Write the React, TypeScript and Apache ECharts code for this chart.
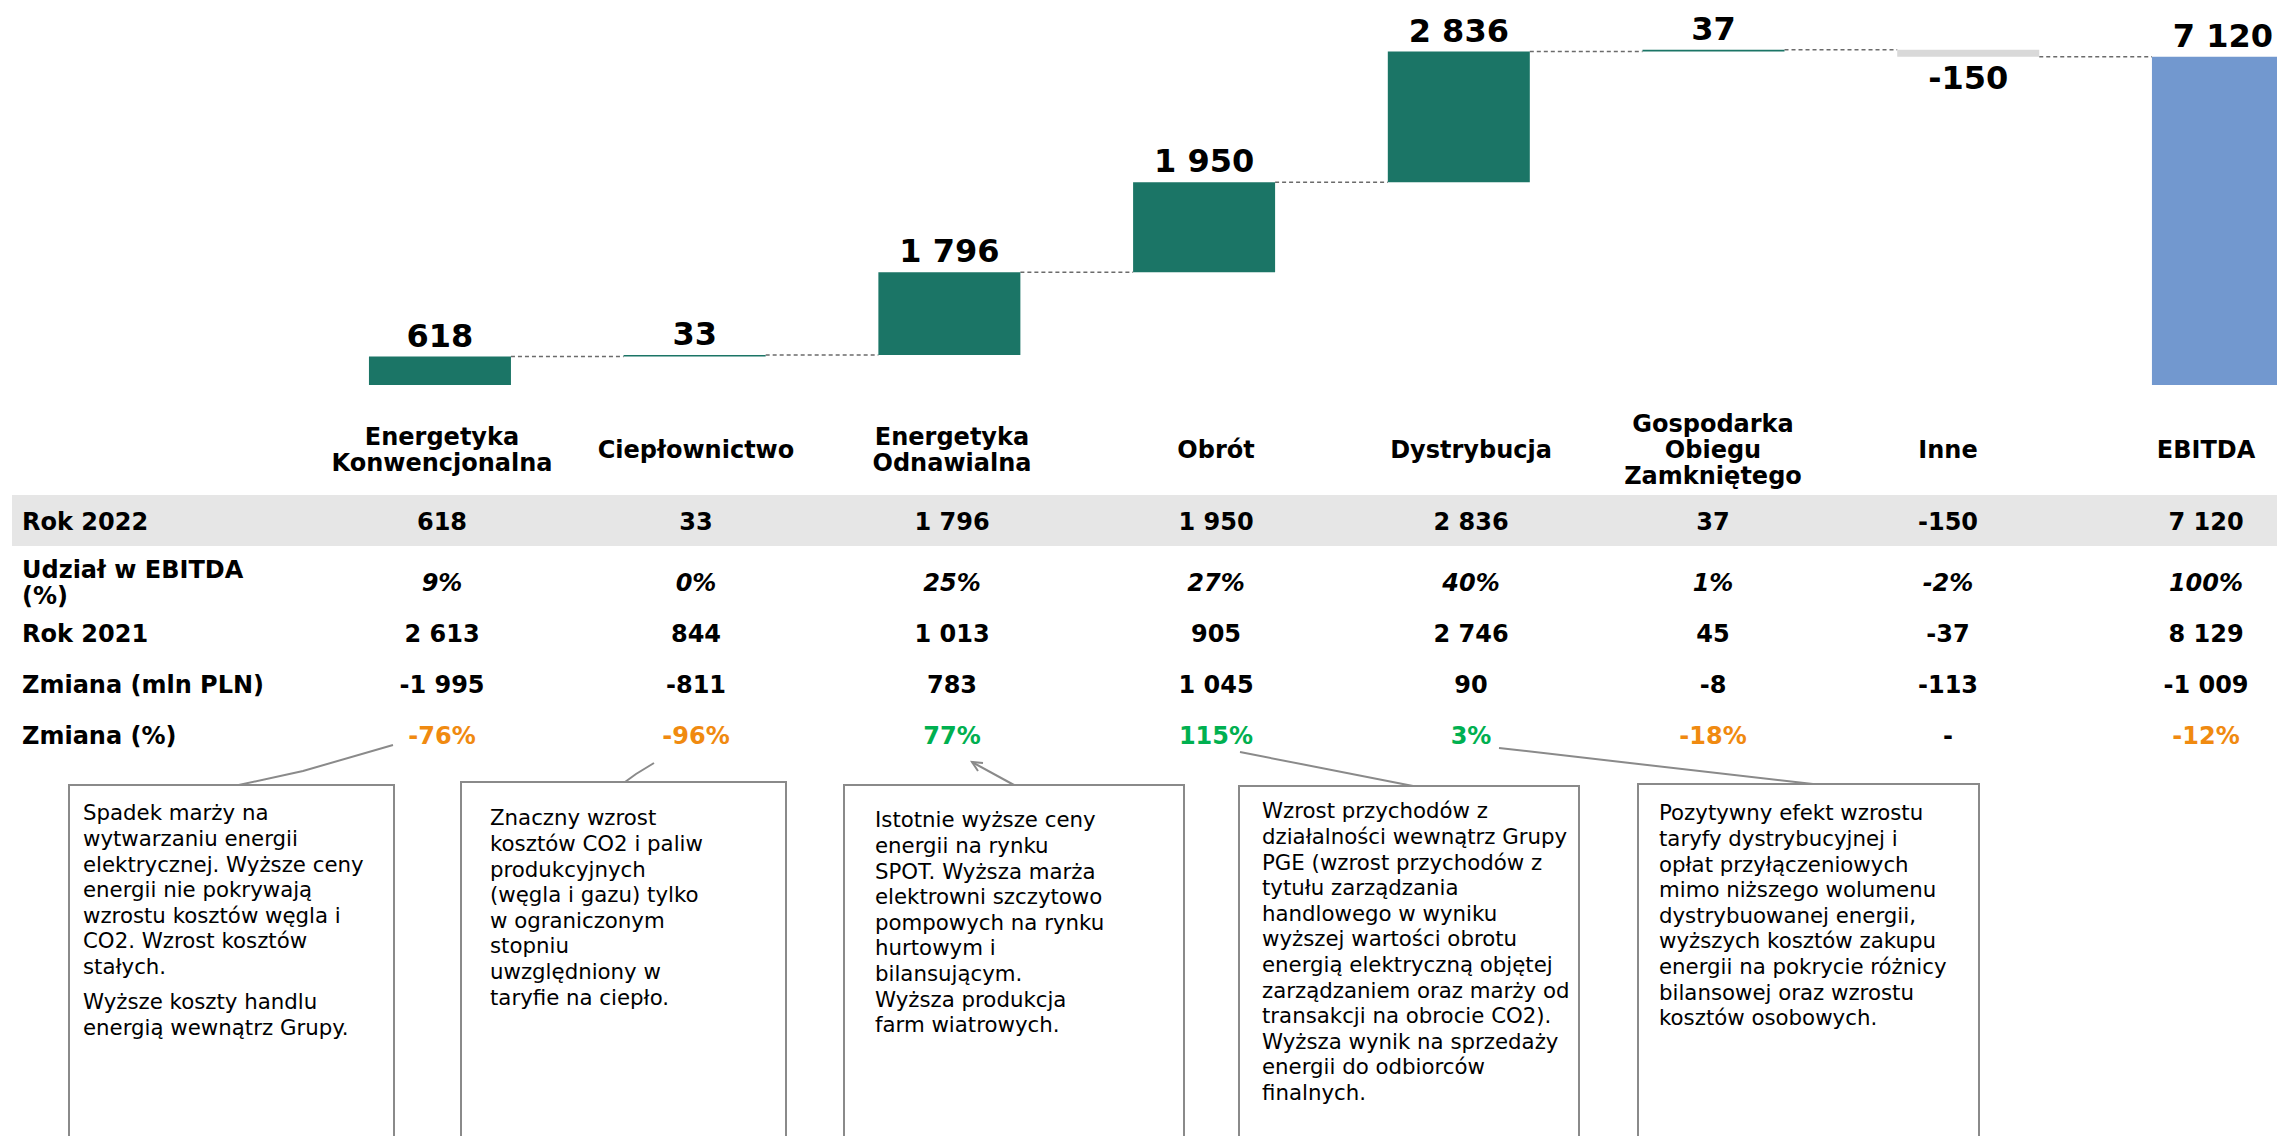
import React, { useEffect, useRef } from "react";
import * as echarts from "echarts";

// ---------- data ----------
const categories = [
  "Energetyka\nKonwencjonalna",
  "Ciepłownictwo",
  "Energetyka\nOdnawialna",
  "Obrót",
  "Dystrybucja",
  "Gospodarka\nObiegu\nZamkniętego",
  "Inne",
  "EBITDA",
];
const rok2022 = [618, 33, 1796, 1950, 2836, 37, -150, 7120];
const udzial = ["9%", "0%", "25%", "27%", "40%", "1%", "-2%", "100%"];
const rok2021 = [2613, 844, 1013, 905, 2746, 45, -37, 8129];
const zmiana = [-1995, -811, 783, 1045, 90, -8, -113, -1009];
const zmianaPct = ["-76%", "-96%", "77%", "115%", "3%", "-18%", "-", "-12%"];
const rowLabels = ["Rok 2022", "Udział w EBITDA\n(%)", "Rok 2021", "Zmiana (mln PLN)", "Zmiana (%)"];

const notes = [
  ["Spadek marży na\nwytwarzaniu energii\nelektrycznej. Wyższe ceny\nenergii nie pokrywają\nwzrostu kosztów węgla i\nCO2. Wzrost kosztów\nstałych.", "Wyższe koszty handlu\nenergią wewnątrz Grupy."],
  ["Znaczny wzrost\nkosztów CO2 i paliw\nprodukcyjnych\n(węgla i gazu) tylko\nw ograniczonym\nstopniu\nuwzględniony w\ntaryfie na ciepło."],
  ["Istotnie wyższe ceny\nenergii na rynku\nSPOT. Wyższa marża\nelektrowni szczytowo\npompowych na rynku\nhurtowym i\nbilansującym.\nWyższa produkcja\nfarm wiatrowych."],
  ["Wzrost przychodów z\ndziałalności wewnątrz Grupy\nPGE (wzrost przychodów z\ntytułu zarządzania\nhandlowego w wyniku\nwyższej wartości obrotu\nenergią elektryczną objętej\nzarządzaniem oraz marży od\ntransakcji na obrocie CO2).\nWyższa wynik na sprzedaży\nenergii do odbiorców\nfinalnych."],
  ["Pozytywny efekt wzrostu\ntaryfy dystrybucyjnej i\nopłat przyłączeniowych\nmimo niższego wolumenu\ndystrybuowanej energii,\nwyższych kosztów zakupu\nenergii na pokrycie różnicy\nbilansowej oraz wzrostu\nkosztów osobowych."],
];

// ---------- layout / style ----------
const FONT = '"DejaVu Sans", Verdana, sans-serif';
const GREEN_BAR = "#1b7566";
const BLUE_BAR = "#7298cf";
const GREY_BAR = "#d9d9d9";
const ORANGE = "#f08a10";
const GREEN_TXT = "#00b050";
const LINE_GREY = "#8a8a8a";

const colX = [442, 696, 952, 1216, 1471, 1713, 1948, 2206];
const rowY = [521.5, 582.5, 633.5, 685, 736];
const boxes = [
  { x: 69, y: 785, w: 325, tx: 83, ty: [813, 1002] },
  { x: 461, y: 782, w: 325, tx: 490, ty: [818] },
  { x: 844, y: 785, w: 340, tx: 875, ty: [820] },
  { x: 1239, y: 786, w: 340, tx: 1262, ty: [811] },
  { x: 1638, y: 784, w: 341, tx: 1659, ty: [813] },
];
const leaders: number[][][] = [
  [[393, 745], [303, 771], [234, 786]],
  [[654, 763], [636, 774], [625, 782]],
  [[1014, 785], [972, 762]],
  [[1240, 752], [1413, 786]],
  [[1499, 748], [1813, 784]],
];

const fmt = (v: number) => {
  const s = Math.abs(v).toString().replace(/\B(?=(\d{3})+(?!\d))/g, " ");
  return (v < 0 ? "-" : "") + s;
};

export default function App() {
  const ref = useRef<HTMLDivElement>(null);

  useEffect(() => {
    if (!ref.current) return;
    const chart = echarts.init(ref.current, undefined, { renderer: "svg" });

    // waterfall geometry from data
    const n = rok2022.length;
    const base: number[] = [];
    const height: number[] = [];
    const colors: string[] = [];
    const levels: number[] = [];
    let cum = 0;
    rok2022.forEach((v, i) => {
      if (i === n - 1) {
        base.push(0);
        height.push(v);
        colors.push(BLUE_BAR);
      } else if (v >= 0) {
        base.push(cum);
        height.push(v);
        colors.push(GREEN_BAR);
        cum += v;
        levels.push(cum);
      } else {
        cum += v;
        base.push(cum);
        height.push(-v);
        colors.push(GREY_BAR);
        levels.push(cum);
      }
    });
    const HALF = 71;

    const graphics: any[] = [];
    // grey band behind Rok 2022 row
    graphics.push({
      type: "rect",
      z: 0,
      shape: { x: 12, y: 495, width: 2300, height: 51 },
      style: { fill: "#e6e6e6" },
    });
    // headers
    categories.forEach((c, i) => {
      graphics.push({
        type: "text",
        z: 5,
        x: colX[i],
        y: 450,
        style: {
          text: c,
          fontFamily: FONT,
          fontWeight: "bold",
          fontSize: 24,
          lineHeight: 26,
          fill: "#000",
          align: "center",
          verticalAlign: "middle",
        },
      });
    });
    // row labels
    rowLabels.forEach((t, r) => {
      graphics.push({
        type: "text",
        z: 5,
        x: 22,
        y: rowY[r],
        style: {
          text: t,
          fontFamily: FONT,
          fontWeight: "bold",
          fontSize: 24,
          lineHeight: 26,
          fill: "#000",
          align: "left",
          verticalAlign: "middle",
        },
      });
    });
    const rows: { vals: string[]; italic?: boolean; colored?: boolean }[] = [
      { vals: rok2022.map(fmt) },
      { vals: udzial, italic: true },
      { vals: rok2021.map(fmt) },
      { vals: zmiana.map(fmt) },
      { vals: zmianaPct, colored: true },
    ];
    rows.forEach((row, r) => {
      row.vals.forEach((t, i) => {
        let fill = "#000";
        if (row.colored && t !== "-") fill = t.startsWith("-") ? ORANGE : GREEN_TXT;
        graphics.push({
          type: "text",
          z: 5,
          x: colX[i],
          y: rowY[r],
          style: {
            text: t,
            fontFamily: FONT,
            fontWeight: "bold",
            fontStyle: row.italic ? "italic" : "normal",
            fontSize: 24,
            fill,
            align: "center",
            verticalAlign: "middle",
          },
        });
      });
    });
    // leader lines
    leaders.forEach((pts) => {
      graphics.push({
        type: "polyline",
        z: 3,
        shape: { points: pts },
        style: { stroke: LINE_GREY, lineWidth: 2, fill: null },
      });
    });
    // arrow head on the 77% leader
    graphics.push({
      type: "polyline",
      z: 3,
      shape: { points: [[978, 771], [972, 762], [983, 763]] },
      style: { stroke: LINE_GREY, lineWidth: 2, fill: null },
    });
    // note boxes
    boxes.forEach((b, k) => {
      graphics.push({
        type: "rect",
        z: 4,
        shape: { x: b.x, y: b.y, width: b.w, height: 420 },
        style: { fill: "#fff", stroke: LINE_GREY, lineWidth: 2 },
      });
      notes[k].forEach((p, j) => {
        graphics.push({
          type: "text",
          z: 5,
          x: b.tx,
          y: b.ty[j] - 12.8,
          style: {
            text: p,
            fontFamily: FONT,
            fontSize: 21.3,
            lineHeight: 25.6,
            fill: "#000",
            align: "left",
            verticalAlign: "top",
          },
        });
      });
    });

    chart.setOption({
      animation: false,
      backgroundColor: "#fff",
      grid: {
        left: 312.6,
        width: 2037.7,
        top: 16.2,
        height: 368.8,
        containLabel: false,
        outerBoundsMode: "none",
      },
      xAxis: {
        type: "category",
        data: categories,
        show: false,
        boundaryGap: true,
      },
      yAxis: { type: "value", min: 0, max: 8000, show: false },
      series: [
        {
          type: "bar",
          stack: "w",
          barWidth: 142,
          silent: true,
          itemStyle: { color: "rgba(0,0,0,0)" },
          data: base,
        },
        {
          type: "bar",
          stack: "w",
          barWidth: 142,
          data: height.map((h, i) => ({
            value: h,
            itemStyle: { color: colors[i] },
            label: { position: rok2022[i] < 0 ? "bottom" : "top" },
          })),
          label: {
            show: true,
            distance: 5,
            fontFamily: FONT,
            fontWeight: "bold",
            fontSize: 32,
            color: "#000",
            formatter: (p: any) => fmt(rok2022[p.dataIndex]),
          },
        },
        {
          type: "custom",
          clip: false,
          z: 1,
          data: levels.map((l, i) => [i, l]),
          encode: { x: 0, y: 1 },
          renderItem: (params: any, api: any) => {
            const i = api.value(0);
            const l = api.value(1);
            const p1 = api.coord([i, l]);
            const p2 = api.coord([i + 1, l]);
            return {
              type: "line",
              shape: { x1: p1[0] + HALF, y1: p1[1], x2: p2[0] - HALF, y2: p2[1] },
              style: { stroke: "#6b6b6b", lineWidth: 1.5, lineDash: [4, 3] },
            };
          },
        },
      ],
      graphic: graphics,
    });

    return () => chart.dispose();
  }, []);

  return (
    <div
      ref={ref}
      style={{ position: "absolute", left: 0, top: 0, width: 2277, height: 1136, background: "#fff" }}
    />
  );
}
